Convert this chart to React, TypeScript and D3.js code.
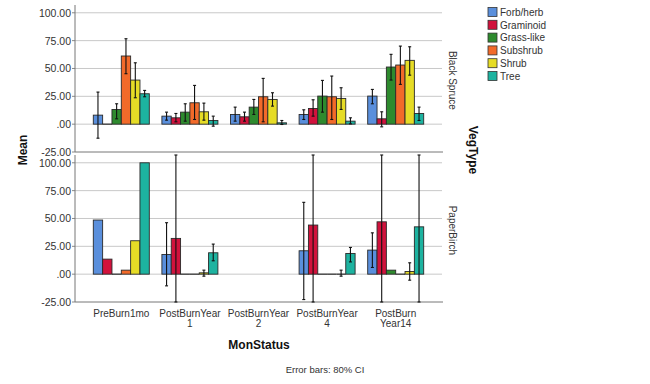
import React from "react";
import * as d3 from "d3";

const categories = ["PreBurn1mo", "PostBurnYear 1", "PostBurnYear 2", "PostBurnYear 4", "PostBurn Year14"];
const categoryLines = [["PreBurn1mo"], ["PostBurnYear", "1"], ["PostBurnYear", "2"], ["PostBurnYear", "4"], ["PostBurn", "Year14"]];
const vegTypes = ["Forb/herb", "Graminoid", "Grass-like", "Subshrub", "Shrub", "Tree"];
const colors = ["#5a8fdc", "#d1123c", "#2e8a2e", "#f26a2a", "#e6dc26", "#1db3a0"];
const panels = ["Black Spruce", "PaperBirch"];
const yTicks = [-25, 0, 25, 50, 75, 100];

type V = number | null;

// Black Spruce: [vegType][category]
const spruceMean: V[][] = [
  [8.1, 7.2, 8.7, 8.7, 25.2],
  [0.3, 5.7, 6.6, 14.1, 4.8],
  [13.2, 10.8, 15.3, 25.2, 51.3],
  [61.2, 19.2, 24.6, 24.6, 53.1],
  [39.6, 11.1, 22.2, 23.1, 57.3],
  [27.3, 3.3, 1.2, 2.7, 9.6],
];
const spruceLow: V[][] = [
  [-12.6, 3.6, 2.7, 4.2, 18.3],
  [null, 2.1, 2.7, 7.2, -2.4],
  [4.8, 2.7, 8.7, 10.8, 39.6],
  [45.3, 4.2, 2.1, 4.2, 35.7],
  [23.7, 3.6, 16.2, 13.2, 44],
  [24.6, -1.8, -0.3, 0.3, 3.3],
];
const spruceHigh: V[][] = [
  [28.8, 10.8, 15.3, 12.9, 31.2],
  [null, 9.6, 10.8, 21.9, 11.1],
  [18.3, 18.3, 22.2, 39.3, 62.7],
  [76.7, 34.8, 41.1, 43.2, 70.1],
  [55.1, 18.9, 28.2, 32.7, 69.5],
  [30.3, 7.2, 3.3, 5.7, 15.3],
];

// Paper Birch: [vegType][category]
const birchMean: V[][] = [
  [48.6, 17.7, null, 21, 21.6],
  [13.5, 32.1, null, 44.1, 47],
  [0, 0, null, 0, 3.6],
  [3.6, 0, null, 0, 0],
  [30, 1.2, null, 0.8, 2.4],
  [100, 19.2, null, 18.6, 42.5],
];
const birchLow: V[][] = [
  [null, -10.5, null, -22.8, 6],
  [null, -60, null, -60, -60],
  [null, null, null, null, null],
  [null, null, null, null, null],
  [null, -1.8, null, -1.8, -5.4],
  [null, 12, null, 11, -60],
];
const birchHigh: V[][] = [
  [null, 46.2, null, 64.5, 37.1],
  [null, 150, null, 150, 150],
  [null, null, null, null, null],
  [null, null, null, null, null],
  [null, 3.6, null, 3.6, 10.2],
  [null, 27, null, 24, 150],
];

const FONT = "'Liberation Sans', Arial, sans-serif";
const left = 75;
const right = 442;
const domain: [number, number] = [-25, 107];

export default function App() {
  const x0 = d3.scaleBand<string>().domain(categories).range([87, 430]).padding(0);
  const x1 = d3.scaleBand<string>().domain(vegTypes).range([-28, 28]).padding(0);
  const panelRanges: [number, number][] = [
    [152, 5],
    [302, 155],
  ];
  const panelData = [
    { mean: spruceMean, low: spruceLow, high: spruceHigh },
    { mean: birchMean, low: birchLow, high: birchHigh },
  ];
  const fmt = (v: number) => (v === 0 ? ".00" : v.toFixed(2));

  return (
    <svg
      width={650}
      height={384}
      style={{ position: "fixed", left: 0, top: 0, background: "#fff" }}
      fontFamily={FONT}
    >
      <rect x={0} y={0} width={650} height={384} fill="#fff" />
      {panels.map((p, pi) => {
        const y = d3.scaleLinear().domain(domain).range(panelRanges[pi]);
        const clamp = (v: number) => Math.max(domain[0], Math.min(domain[1], v));
        const d = panelData[pi];
        const labelY = (y(100) + y(-25)) / 2;
        return (
          <g key={p}>
            {yTicks.map((t) => (
              <g key={t}>
                {t !== -25 && (
                  <line x1={left} x2={right} y1={y(t)} y2={y(t)} stroke="#c8c8c8" strokeWidth={1} />
                )}
                <line x1={left - 3} x2={left} y1={y(t)} y2={y(t)} stroke="#888" />
                <text x={71} y={y(t) + 4} fontSize={10.5} textAnchor="end" fill="#333">
                  {fmt(t)}
                </text>
              </g>
            ))}
            <line x1={left} x2={left} y1={y(domain[1])} y2={y(-25)} stroke="#777" />
            <line x1={left} x2={right + 1} y1={y(-25)} y2={y(-25)} stroke="#777" />
            {vegTypes.map((vt, vi) =>
              categories.map((c, ci) => {
                const m = d.mean[vi][ci];
                if (m === null) return null;
                const bx = (x0(c) as number) + x0.bandwidth() / 2 + (x1(vt) as number);
                const bw = x1.bandwidth();
                const yTop = y(Math.max(0, m));
                const yBot = y(Math.min(0, m));
                const h = yBot - yTop;
                if (h < 1) {
                  return (
                    <line
                      key={vt + c}
                      x1={bx}
                      x2={bx + bw}
                      y1={y(0)}
                      y2={y(0)}
                      stroke="#2a2a2a"
                      strokeWidth={1.2}
                    />
                  );
                }
                return (
                  <rect
                    key={vt + c}
                    x={bx}
                    y={yTop}
                    width={bw}
                    height={h}
                    fill={colors[vi]}
                    stroke="#2a2a2a"
                    strokeWidth={0.9}
                  />
                );
              })
            )}
            {vegTypes.map((vt, vi) =>
              categories.map((c, ci) => {
                const lo = d.low[vi][ci];
                const hi = d.high[vi][ci];
                if (lo === null || hi === null) return null;
                const cx = (x0(c) as number) + x0.bandwidth() / 2 + (x1(vt) as number) + x1.bandwidth() / 2;
                const y1 = y(clamp(hi));
                const y2 = y(clamp(lo));
                return (
                  <g key={"e" + vt + c} stroke="#111" strokeWidth={1.1}>
                    <line x1={cx} x2={cx} y1={y1} y2={y2} />
                    <line x1={cx - 1.5} x2={cx + 1.5} y1={y1} y2={y1} />
                    <line x1={cx - 1.5} x2={cx + 1.5} y1={y2} y2={y2} />
                  </g>
                );
              })
            )}
            <text
              transform={`translate(449,${labelY - 2}) rotate(90)`}
              fontSize={10}
              textAnchor="middle"
              fill="#333"
            >
              {p}
            </text>
          </g>
        );
      })}
      {categories.map((c, ci) => {
        const cx = (x0(c) as number) + x0.bandwidth() / 2;
        return (
          <text key={c} x={cx} y={317} fontSize={10} textAnchor="middle" fill="#333">
            {categoryLines[ci].map((ln, li) => (
              <tspan key={li} x={cx} dy={li === 0 ? 0 : 10}>
                {ln}
              </tspan>
            ))}
          </text>
        );
      })}
      <text transform="translate(27,150) rotate(-90)" fontSize={12} fontWeight="bold" textAnchor="middle" fill="#111">
        Mean
      </text>
      <text x={259} y={349} fontSize={12} fontWeight="bold" textAnchor="middle" fill="#111">
        MonStatus
      </text>
      <text transform="translate(469,150) rotate(90)" fontSize={12} fontWeight="bold" textAnchor="middle" fill="#111">
        VegType
      </text>
      <text x={325} y={373} fontSize={9.5} textAnchor="middle" fill="#333">
        Error bars: 80% CI
      </text>
      {vegTypes.map((vt, vi) => {
        const cy = 12 + vi * 12.8;
        return (
          <g key={vt}>
            <rect x={488} y={cy - 4.5} width={9} height={9} fill={colors[vi]} stroke="#333" strokeWidth={0.8} />
            <text x={500} y={cy + 3.8} fontSize={10} fill="#333">
              {vt}
            </text>
          </g>
        );
      })}
    </svg>
  );
}
